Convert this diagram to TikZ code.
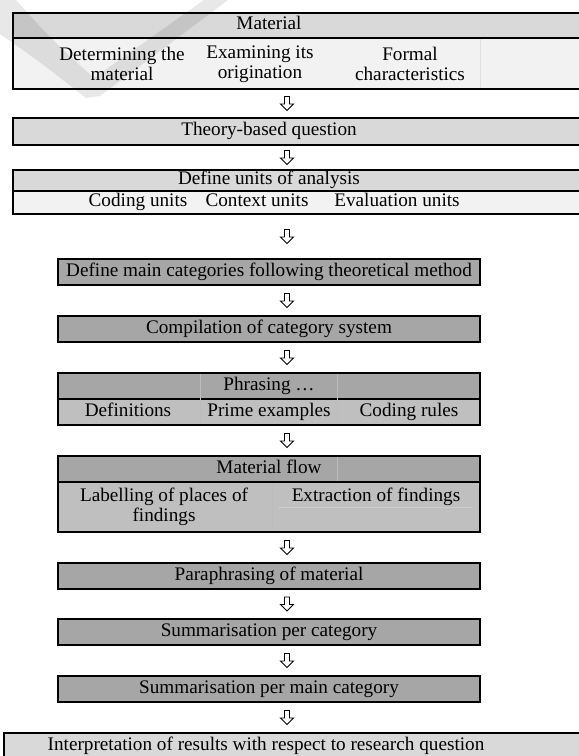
\documentclass[tikz,border=0pt]{standalone}
\usepackage{fontspec}
\setmainfont{Liberation Serif}
\usetikzlibrary{positioning,calc}
\definecolor{hdrlight}{HTML}{D9D9D9}
\definecolor{sublight}{HTML}{F2F2F2}
\definecolor{hdrdark}{HTML}{A6A6A6}
\definecolor{subdark}{HTML}{BFBFBF}
\tikzset{
  txt/.style={font=\fontsize{14.4}{15}\selectfont},
  row/.style={txt, draw, line width=1.7pt, inner sep=0pt, outer sep=0pt,
    anchor=north west, text height=9.5pt, text depth=3pt},
  widerow/.style={row, minimum width=440.25pt},
  narrowrow/.style={row, minimum width=316.5pt},
  cell/.style={txt, inner sep=0pt, text height=9.5pt, text depth=3pt},
  cellml/.style={txt, inner sep=0pt, align=center},
  colline/.style={line width=0.6pt},
  downarr/.pic={\draw[line width=0.7pt, fill=white]
    (-2.5,-7) -- (2.5,-7) -- (2.5,0.5) -- (6.5,0.5) -- (0,7) -- (-6.5,0.5) -- (-2.5,0.5) -- cycle;}
}
\begin{document}
\begin{tikzpicture}[x=0.75pt, y=-0.75pt]
\useasboundingbox (0,0) rectangle (578,756);
% Material
\node[widerow, fill=hdrlight, minimum height=18.75pt] (mat) at (13,13) {};
\node[cell] (mattxt) at (269,25.5) {Material};
\node[widerow, fill=sublight, minimum height=38.25pt] (matsub) at (mat.south west) {};
\draw[colline, white!88!black] (480,39) -- (480,88);
\node[cellml] (det) at (122,64) {Determining the\\material};
\node[cellml] (exa) at (260,64) {Examining its\\origination};
\node[cellml] (frm) at (410,64) {Formal\\characteristics};
% Theory-based question
\node[widerow, fill=hdrlight, minimum height=20.25pt] (thq) at (13,118) {};
\node[cell] (thqtxt) at (269,131.5) {Theory-based question};
% Units of analysis
\node[widerow, fill=hdrlight, minimum height=15.75pt] (uoa) at (13,170) {};
\node[cell] (uoatxt) at (269,180.5) {Define units of analysis};
\node[widerow, fill=sublight, minimum height=17.25pt] (uoasub) at (uoa.south west) {};
\node[cell] (cod) at (138,202.5) {Coding units};
\node[cell] (ctx) at (257,202.5) {Context units};
\node[cell] (evl) at (397,202.5) {Evaluation units};
% Main categories
\node[narrowrow, fill=hdrdark, minimum height=19.5pt] (maincat) at (58,259) {Define main categories following theoretical method};
\node[narrowrow, fill=hdrdark, minimum height=19.5pt] (catsys) at (58,316) {Compilation of category system};
% Phrasing
\node[narrowrow, fill=hdrdark, minimum height=19.5pt] (phr) at (58,373) {Phrasing \dots};
\node[narrowrow, fill=subdark, minimum height=19.5pt] (phrsub) at (phr.south west) {};
\draw[colline, hdrdark!75!white] (200,374) -- (200,424) (337,374) -- (337,424);
\node[cell] (dfn) at (128,412) {Definitions};
\node[cell] (pex) at (269,412) {Prime examples};
\node[cell] (crl) at (409,412) {Coding rules};
% Material flow
\node[narrowrow, fill=hdrdark, minimum height=19.5pt] (flow) at (58,456) {Material flow};
\node[narrowrow, fill=subdark, minimum height=37.5pt] (flowsub) at (flow.south west) {};
\draw[colline, hdrdark!75!white] (337,457) -- (337,481) (272,483) -- (272,531);
\draw[colline, subdark!80!white] (278,507) -- (473,507);
\node[cellml] (lab) at (164,507) {Labelling of places of\\findings};
\node[txt, inner sep=0pt, anchor=north] (ext) at (lab.north -| 376,0) {Extraction of findings};
% Remaining steps
\node[narrowrow, fill=hdrdark, minimum height=19.5pt] (para) at (58,563) {Paraphrasing of material};
\node[narrowrow, fill=hdrdark, minimum height=19.5pt] (sumcat) at (58,619) {Summarisation per category};
\node[narrowrow, fill=hdrdark, minimum height=19.5pt] (summain) at (58,676) {Summarisation per main category};
\node[row, fill=hdrlight, minimum width=447pt, minimum height=19.5pt] (interp) at (4,733) {};
\node[cell] (interptxt) at (266,746) {Interpretation of results with respect to research question};
% Watermark
\fill[black, opacity=0.09] (0,4) -- (0,34) .. controls (40,62) .. (86,98) -- (100,96)
  -- (228,0) -- (204,0) -- (94,78) .. controls (52,40) .. (16,0) -- (0,0) -- cycle;
% Pfeile
\coordinate (ax) at (287,0);
\pic at ($(matsub.south -| ax)!.5!(thq.north -| ax)$) {downarr};
\pic at ($(thq.south -| ax)!.5!(uoa.north -| ax)$) {downarr};
\pic at ($(uoasub.south -| ax)!.5!(maincat.north -| ax)$) {downarr};
\pic at ($(maincat.south -| ax)!.5!(catsys.north -| ax)$) {downarr};
\pic at ($(catsys.south -| ax)!.5!(phr.north -| ax)$) {downarr};
\pic at ($(phrsub.south -| ax)!.5!(flow.north -| ax)$) {downarr};
\pic at ($(flowsub.south -| ax)!.5!(para.north -| ax)$) {downarr};
\pic at ($(para.south -| ax)!.5!(sumcat.north -| ax)$) {downarr};
\pic at ($(sumcat.south -| ax)!.5!(summain.north -| ax)$) {downarr};
\pic at ($(summain.south -| ax)!.5!(interp.north -| ax)$) {downarr};
\end{tikzpicture}
\end{document}
